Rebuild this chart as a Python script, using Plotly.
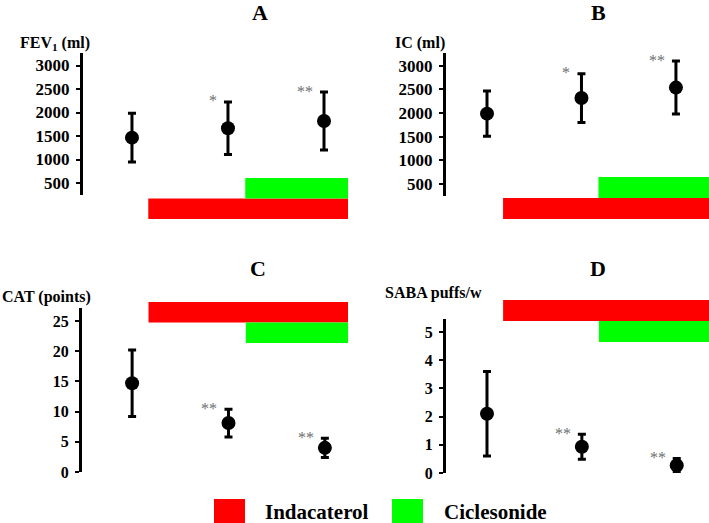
import plotly.graph_objects as go

# visits (baseline, indacaterol, indacaterol + ciclesonide)
visits = [1, 2, 3]

fev1_mean = [1465, 1665, 1820]
fev1_sd = [520, 560, 615]
ic_mean = [1985, 2315, 2535]
ic_sd = [480, 515, 560]
cat_mean = [14.7, 8.1, 4.0]
cat_sd = [5.5, 2.3, 1.6]
saba_mean = [2.1, 0.93, 0.27]
saba_sd = [1.5, 0.44, 0.24]

sig_ab = ["", "*", "**"]
sig_cd = ["", "**", "**"]

ml_ticks = [500, 1000, 1500, 2000, 2500, 3000]
cat_ticks = [0, 5, 10, 15, 20, 25]
saba_ticks = [0, 1, 2, 3, 4, 5]

treatments = ["Indacaterol", "Ciclesonide"]
treat_start = [1.17, 2.18]
treat_end = [3.4, 3.4]
treat_colors = ["#ff0000", "#00ff00"]

W, H = 709, 523
FONT = "Liberation Serif"


def px_x(v):
    return v / W


def px_y(v):
    return 1 - v / H


panels = [
    dict(letter="A", label="FEV<sub>1</sub> (ml)", mean=fev1_mean, sd=fev1_sd, sig=sig_ab,
         xdom=(83, 348), xr=(0.49, 3.25), ydom=(53, 195), yr=(245, 3266),
         ticks=ml_ticks, tsize=17, bdom=(178, 219),
         order=["Indacaterol", "Ciclesonide"], title_xy=(260, 12), lab_xy=(18, 43)),
    dict(letter="B", label="IC (ml)", mean=ic_mean, sd=ic_sd, sig=sig_ab,
         xdom=(446, 709), xr=(0.566, 3.35), ydom=(53, 196), yr=(245, 3266),
         ticks=ml_ticks, tsize=17, bdom=(177, 219),
         order=["Indacaterol", "Ciclesonide"], title_xy=(598, 12), lab_xy=(393, 43)),
    dict(letter="C", label="CAT (points)", mean=cat_mean, sd=cat_sd, sig=sig_cd,
         xdom=(82, 348), xr=(0.48, 3.24), ydom=(308, 472), yr=(0, 27.15),
         ticks=cat_ticks, tsize=16, bdom=(302, 343),
         order=["Ciclesonide", "Indacaterol"], title_xy=(258, 268), lab_xy=(0, 297)),
    dict(letter="D", label="SABA puffs/w", mean=saba_mean, sd=saba_sd, sig=sig_cd,
         xdom=(446, 709), xr=(0.568, 3.34), ydom=(319, 473), yr=(0, 5.46),
         ticks=saba_ticks, tsize=16, bdom=(300, 342),
         order=["Ciclesonide", "Indacaterol"], title_xy=(598, 268), lab_xy=(383, 293)),
]

fig = go.Figure()
layout = {}
annotations = []
shapes = []

for i, p in enumerate(panels):
    n_pt = 2 * i + 1
    n_bar = 2 * i + 2
    xa_pt = "x" if n_pt == 1 else f"x{n_pt}"
    ya_pt = "y" if n_pt == 1 else f"y{n_pt}"
    xa_bar, ya_bar = f"x{n_bar}", f"y{n_bar}"
    key_x_pt = "xaxis" if n_pt == 1 else f"xaxis{n_pt}"
    key_y_pt = "yaxis" if n_pt == 1 else f"yaxis{n_pt}"

    fig.add_trace(go.Scatter(
        x=visits, y=p["mean"], mode="markers",
        marker=dict(color="black", size=14),
        error_y=dict(type="data", array=p["sd"], color="black", thickness=3, width=4),
        xaxis=xa_pt, yaxis=ya_pt, showlegend=False, cliponaxis=False,
    ))

    for t, s, e, c in zip(treatments, treat_start, treat_end, treat_colors):
        fig.add_trace(go.Bar(
            y=[t], x=[e - s], base=[s], orientation="h", width=[1.0],
            marker=dict(color=c, line=dict(width=0)),
            xaxis=xa_bar, yaxis=ya_bar, showlegend=False, name=t,
        ))

    xd = [px_x(p["xdom"][0]), min(1.0, px_x(p["xdom"][1]))]
    layout[key_x_pt] = dict(domain=xd, range=list(p["xr"]), visible=False,
                            automargin=False, anchor=ya_pt)
    layout[key_y_pt] = dict(
        domain=[px_y(p["ydom"][1]), px_y(p["ydom"][0])], range=list(p["yr"]),
        anchor=xa_pt, showline=True, linecolor="black", linewidth=3, automargin=False,
        showgrid=False, zeroline=False, ticks="outside", ticklen=4, tickwidth=2,
        tickcolor="black", tickvals=p["ticks"],
        ticktext=["<b>%d</b>" % v for v in p["ticks"]], ticklabelstandoff=3,
        tickfont=dict(family=FONT, size=p["tsize"], color="black"),
    )
    layout[f"xaxis{n_bar}"] = dict(domain=xd, range=list(p["xr"]), visible=False,
                                   anchor=ya_bar, matches=xa_pt, automargin=False)
    layout[f"yaxis{n_bar}"] = dict(
        domain=[px_y(p["bdom"][1]), px_y(p["bdom"][0])], anchor=xa_bar,
        visible=False, type="category", categoryorder="array", automargin=False,
        categoryarray=p["order"], range=[-0.5, 1.5],
    )

    # significance marks
    for v, m, s, txt in zip(visits, p["mean"], p["sd"], p["sig"]):
        if txt:
            annotations.append(dict(
                x=v, y=m + s, xref=xa_pt, yref=ya_pt, text=txt, showarrow=False,
                xanchor="right", yanchor="middle", xshift=-9, yshift=1,
                font=dict(family=FONT, size=16, color="#6e6e6e"),
            ))

    tx, ty = p["title_xy"]
    annotations.append(dict(
        x=px_x(tx), y=px_y(ty), xref="paper", yref="paper", text="<b>%s</b>" % p["letter"],
        showarrow=False, xanchor="center", yanchor="middle",
        font=dict(family=FONT, size=22, color="black"),
    ))
    lx, ly = p["lab_xy"]
    annotations.append(dict(
        x=px_x(lx), y=px_y(ly), xref="paper", yref="paper", text="<b>%s</b>" % p["label"],
        showarrow=False, xanchor="left", yanchor="middle",
        font=dict(family=FONT, size=16, color="black"),
    ))

# legend drawn by hand, with large swatches
legend_items = [(214, 245, 263), (392, 423, 442)]
for (sx0, sx1, tx), t, c in zip(legend_items, treatments, treat_colors):
    shapes.append(dict(type="rect", xref="paper", yref="paper",
                       x0=px_x(sx0), x1=px_x(sx1), y0=px_y(523), y1=px_y(499),
                       fillcolor=c, line=dict(width=0)))
    annotations.append(dict(
        x=px_x(tx), y=px_y(512), xref="paper", yref="paper", text="<b>%s</b>" % t,
        showarrow=False, xanchor="left", yanchor="middle",
        font=dict(family=FONT, size=21, color="black"),
    ))

fig.update_layout(
    **layout,
    width=W, height=H,
    font=dict(family=FONT, color="black"),
    margin=dict(l=0, r=0, t=0, b=0, pad=0, autoexpand=False),
    paper_bgcolor="white", plot_bgcolor="rgba(0,0,0,0)",
    barmode="overlay", showlegend=False,
    annotations=annotations, shapes=shapes,
)

# the page body has a default 8px margin; remove it so the chart fills the window
fig.write_html("out.html", config={"displayModeBar": False},
               post_script="document.body.style.margin = '0';")
